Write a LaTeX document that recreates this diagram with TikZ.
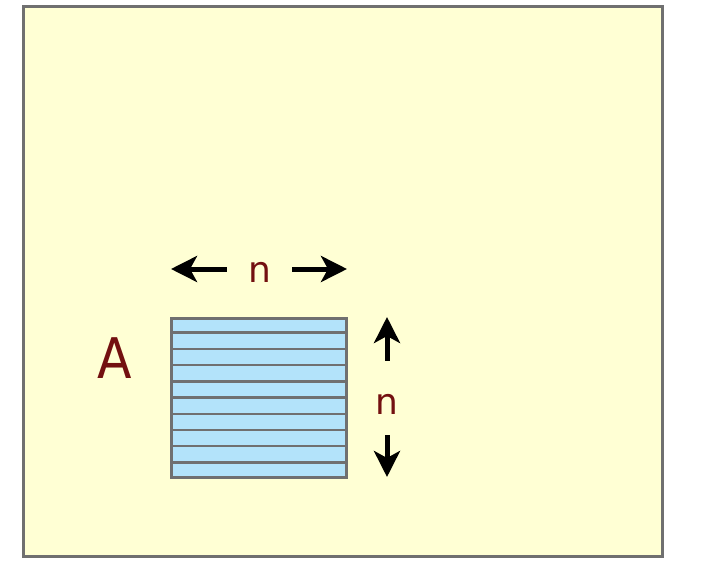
\documentclass[tikz,border=0pt]{standalone}
\usepackage{fontspec}
\setmainfont{DejaVu Sans}
\usepackage{xcolor}
\usepackage{tikz}
\usetikzlibrary{arrows.meta,positioning,calc}
\definecolor{paper}{HTML}{FFFFD4}
\definecolor{rowfill}{HTML}{B3E3FA}
\definecolor{frame}{HTML}{707070}
\definecolor{lbl}{HTML}{731010}

\begin{document}
\begin{tikzpicture}[
  x=1pt,y=-1pt,
  dim/.style={text=lbl,font=\fontsize{36}{36}\selectfont,inner sep=0pt},
  arr/.style={-{Stealth[length=26pt,width=26pt,inset=7pt]},line width=5pt,draw=black}
]
\useasboundingbox (0,0) rectangle (712,572);
\draw[frame,fill=paper,line width=3pt] (23,7) rectangle (662,556);
\node[draw=frame,fill=rowfill,line width=3pt,minimum width=175pt,minimum height=159pt,inner sep=0pt] (mat) at (259,397.5) {};
\foreach \k in {1,...,9}
  \draw[frame,line width=2.4pt] ($(mat.north west)!\k/10!(mat.south west)$) -- ($(mat.north east)!\k/10!(mat.south east)$);
\node[text=lbl,font=\fontsize{56}{56}\selectfont,inner sep=0pt,xscale=0.9] (A) at (115,358) {A};
% width
\node[dim,minimum width=65pt] (nw) at (259.5,272) {n};
\coordinate (wl) at (171,269);
\coordinate (wr) at (347,269);
\draw[arr] (nw.west |- wl) -- (wl);
\draw[arr] (nw.east |- wr) -- (wr);
% height
\node[dim,minimum height=84pt] (nh) at (387,404) {n};
\coordinate (hu) at (387,317);
\coordinate (hd) at (387,477);
\draw[arr] ([yshift=1pt]nh.north) -- (hu);
\draw[arr] ([yshift=11pt]nh.south) -- (hd);
\end{tikzpicture}
\end{document}
